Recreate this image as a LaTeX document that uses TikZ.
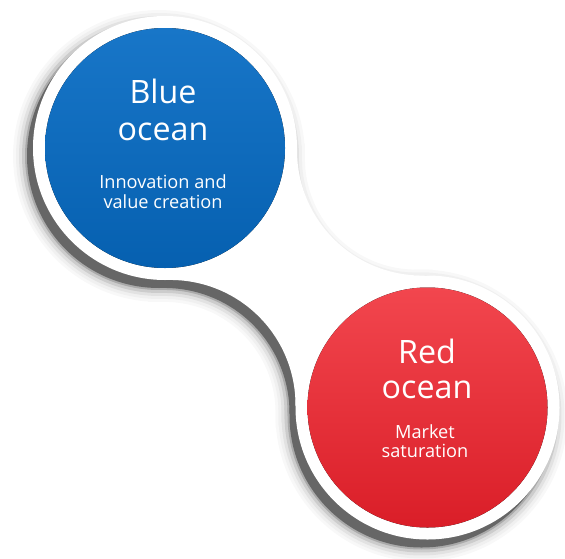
\documentclass[tikz,border=0pt]{standalone}
\usepackage{fontspec}
\setmainfont{Open Sans}
\definecolor{blueup}{RGB}{24,118,200}
\definecolor{bluedown}{RGB}{6,96,176}
\definecolor{redup}{RGB}{242,70,78}
\definecolor{reddown}{RGB}{218,30,40}
\definecolor{shade}{RGB}{85,85,85}
\tikzset{
  title/.style={text=white, font=\fontsize{27.5}{33}\selectfont, anchor=base, inner sep=0pt},
  subtitle/.style={text=white, font=\fontsize{15.5}{18}\selectfont, anchor=base, inner sep=0pt},
}
% outline of the two rims and the neck between them
\newcommand{\blob}[1]{%
  \path[#1] (165,148) circle[radius=132];
  \path[#1] (427.5,407.5) circle[radius=132];
  \path[#1] (165,148) -- (297,149.3)
      arc[start angle=180.57, end angle=88.76, radius=125]
      -- (427.5,407.5) -- (295.5,406.2)
      arc[start angle=0.57, end angle=-91.24, radius=125] -- cycle;
}
\begin{document}
\begin{tikzpicture}[x=0.03cm, y=-0.03cm]
    \useasboundingbox (0,0) rectangle (565,558);

    % soft shadow, lower left
    \begin{scope}[shift={(-6,8)}]
        \foreach \e/\c in {14/4, 11/9, 8/17, 5/30, 2/50}{
            \blob{fill=shade!\c!white, draw=shade!\c!white, line width=\e*1.7pt}
        }
        \blob{fill=shade!90!white}
    \end{scope}

    % white rim
    \blob{fill=white}

    % discs
    \fill[top color=blueup, bottom color=bluedown] (165,148) circle[radius=120];
    \fill[top color=redup, bottom color=reddown] (427.5,407.5) circle[radius=120];

    % texts
    \node[title] (bluetop) at (163,103) {Blue};
    \node[title] (bluebot) at (163,140) {ocean};
    \node[subtitle] (bluesub1) at (163,188) {Innovation and};
    \node[subtitle] (bluesub2) at (163,208) {value creation};

    \node[title] (redtop) at (427,363) {Red};
    \node[title] (redbot) at (427,398) {ocean};
    \node[subtitle] (redsub1) at (425,438) {Market};
    \node[subtitle] (redsub2) at (425,457) {saturation};
\end{tikzpicture}
\end{document}
